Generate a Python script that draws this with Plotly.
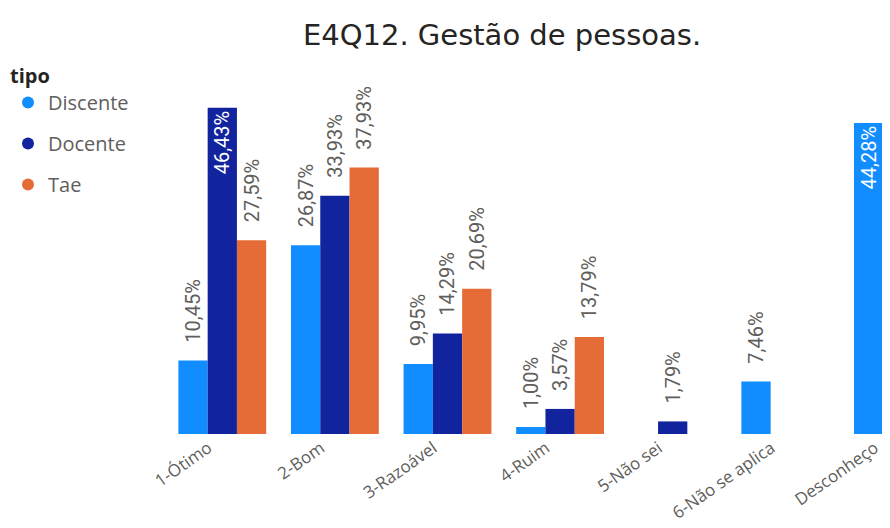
import plotly.graph_objects as go

categories = ["1-Ótimo", "2-Bom", "3-Razoável", "4-Ruim", "5-Não sei", "6-Não se aplica", "Desconheço"]
discente = [10.45, 26.87, 9.95, 1.00, None, 7.46, 44.28]
docente = [46.43, 33.93, 14.29, 3.57, 1.79, None, None]
tae = [27.59, 37.93, 20.69, 13.79, None, None, None]

series = [("Discente", discente, "#118DFF"),
          ("Docente", docente, "#12239E"),
          ("Tae", tae, "#E66C37")]

X_END = 5.93
xs = list(range(len(categories)))
tickvals = [min(v, X_END - 0.01) for v in xs]

def fmt(v):
    return "" if v is None else ("%.2f" % v).replace(".", ",") + "%"

fig = go.Figure()
ymax = 47.4
for i, (name, vals, color) in enumerate(series):
    texts = [fmt(v) for v in vals]
    inside = [v is not None and v > ymax * 0.9 for v in vals]
    tpos = ["inside" if f else "outside" for f in inside]
    tcol = ["#FFFFFF" if f else "#605E5C" for f in inside]
    ttxt = [t if f else ("\u00a0\u00a0\u00a0" + t if t else "") for t, f in zip(texts, inside)]
    fig.add_trace(go.Bar(
        x=xs, y=vals, name=name, marker_color=color, marker_line_width=0,
        text=ttxt, textposition=tpos, textangle=-90, insidetextanchor="end",
        textfont=dict(family="Roboto", size=20, color=tcol),
        constraintext="none", cliponaxis=False, showlegend=False,
        hoverinfo="skip",
    ))
    fig.add_trace(go.Scatter(
        x=[None], y=[None], mode="markers", name=name,
        marker=dict(symbol="circle", size=15, color=color),
        legendgroup=name, showlegend=True,
    ))

fig.update_layout(
    width=882, height=520,
    margin=dict(l=158, r=0, t=93, b=94, autoexpand=False),
    paper_bgcolor="white", plot_bgcolor="white",
    barmode="group", bargap=0.22, bargroupgap=0,
    title=dict(text="E4Q12. Gestão de pessoas.", x=(502 - 8) / 882, xanchor="center",
               y=1 - 27 / 520, yanchor="middle",
               font=dict(family="DejaVu Sans", size=29, color="#252423")),
    legend=dict(xref="container", yref="container", x=0, y=1 - 49 / 520,
                xanchor="left", yanchor="top",
                title=dict(text="<b>tipo</b>", font=dict(family="Open Sans", size=20, color="#252423")),
                font=dict(family="Open Sans", size=20, color="#605E5C"),
                tracegroupgap=12, itemsizing="constant", itemwidth=30),
    xaxis=dict(range=[-0.5, X_END], tickmode="array", tickvals=tickvals, ticktext=categories,
               tickangle=-35, showgrid=False, zeroline=False, showline=False,
               tickfont=dict(family="Open Sans", size=17, color="#605E5C"),
               ticklabeloverflow="allow", ticklabelshift=-14,
               automargin=False, fixedrange=True),
    yaxis=dict(range=[0, ymax], visible=False, showgrid=False, zeroline=False, fixedrange=True),
)

fig.write_html("out.html")
